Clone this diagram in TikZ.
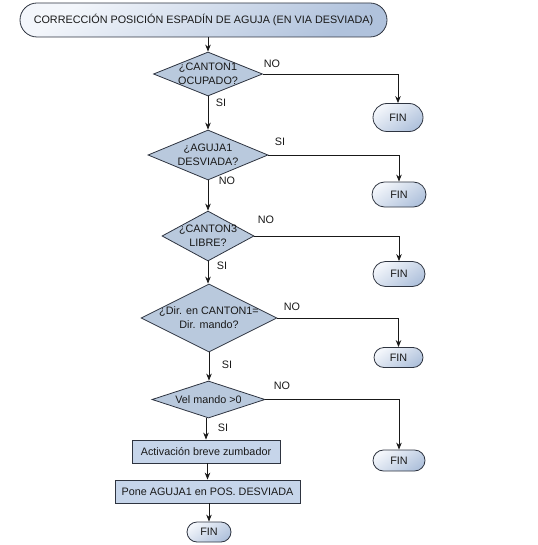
\documentclass[tikz,border=0pt]{standalone}
\usepackage{fontspec}
\setmainfont{Liberation Sans}
\usepackage{xcolor}
\definecolor{edgecol}{HTML}{2E3440}
\definecolor{decfill}{HTML}{B9C9DD}
\definecolor{procfill}{HTML}{C6D5EA}
\definecolor{termlight}{HTML}{F3F6FB}
\definecolor{termdark}{HTML}{B0C2DC}
\usepackage{tikz}
\usetikzlibrary{shapes.geometric,shapes.misc}
\usetikzlibrary{arrows.meta}
\tikzset{>={Stealth[length=7pt,width=5.5pt]}}
\tikzset{
  txt/.style={font=\fontsize{10.8}{14}\selectfont, text=black!90},
  terminal/.style={rounded rectangle, draw=edgecol, line width=0.8pt, top color=termlight,
    bottom color=termdark, shading angle=35, inner sep=0pt, txt},
  decision/.style={diamond, draw=edgecol, line width=0.8pt, fill=decfill, inner sep=0pt},
  dlbl/.style={txt, align=center, inner sep=0pt},
  process/.style={rectangle, draw=edgecol, line width=0.8pt, fill=procfill, inner sep=0pt, txt},
  lbl/.style={txt, inner sep=0pt},
  flow/.style={->, draw=black!90, line width=0.8pt}
}

\begin{document}
\begin{tikzpicture}[x=1pt,y=-1pt]
  \useasboundingbox (0,0) rectangle (537,545);
  % terminals
  \node[terminal, minimum width=367pt, minimum height=34pt] (start) at (203.5,20)
    {CORRECCIÓN POSICIÓN ESPADÍN DE AGUJA (EN VIA DESVIADA)};
  \node[terminal, minimum width=50pt, minimum height=28pt] (fin1) at (398,117.5) {FIN};
  \node[terminal, minimum width=54pt, minimum height=25pt] (fin2) at (399,194.5) {FIN};
  \node[terminal, minimum width=52pt, minimum height=25pt] (fin3) at (399,274) {FIN};
  \node[terminal, minimum width=49pt, minimum height=20pt] (fin4) at (398.5,357.5) {FIN};
  \node[terminal, minimum width=52pt, minimum height=21pt] (fin5) at (399,460.5) {FIN};
  \node[terminal, minimum width=44pt, minimum height=20pt] (fin6) at (209,532) {FIN};
  % decisions
  \node[decision, minimum width=109pt, minimum height=44pt,
    label={[dlbl]center:{¿CANTON1\\OCUPADO?}}] (d1) at (208,74) {};
  \node[decision, minimum width=120pt, minimum height=50pt,
    label={[dlbl]center:{¿AGUJA1\\DESVIADA?}}] (d2) at (208,155) {};
  \node[decision, minimum width=92pt, minimum height=50pt,
    label={[dlbl]center:{¿CANTON3\\LIBRE?}}] (d3) at (208,236) {};
  \node[decision, minimum width=136pt, minimum height=68pt,
    label={[dlbl]center:{¿Dir. en CANTON1=\\Dir. mando?}}] (d4) at (209,318) {};
  \node[decision, minimum width=113pt, minimum height=37pt,
    label={[dlbl]center:{Vel mando >0}}] (d5) at (208.5,399.5) {};
  % processes
  \node[process, minimum width=148pt, minimum height=23pt] (p1) at (206,451.5)
    {Activación breve zumbador};
  \node[process, minimum width=185pt, minimum height=23pt] (p2) at (207.5,491.5)
    {Pone AGUJA1 en POS. DESVIADA};
  % branch labels
  \node[lbl] (n1) at (272,64) {NO};
  \node[lbl] (s1) at (221,103) {SI};
  \node[lbl] (s2) at (280,142) {SI};
  \node[lbl] (n2) at (227,181) {NO};
  \node[lbl] (n3) at (266,220) {NO};
  \node[lbl] (s3) at (222,266) {SI};
  \node[lbl] (n4) at (292,307) {NO};
  \node[lbl] (s4) at (227,365) {SI};
  \node[lbl] (n5) at (282,386) {NO};
  \node[lbl] (s5) at (223,428) {SI};
  % main column
  \draw[flow] (start.south -| d1.north) -- (d1.north);
  \draw[flow] (d1.south) -- (d2.north);
  \draw[flow] (d2.south) -- (d3.north);
  \draw[flow] (d3.south) -- (d4.north -| d3.south);
  \draw[flow] (d4.south) -- (d5.north -| d4.south);
  \draw[flow] (d5.south -| p1.north) -- (p1.north);
  \draw[flow] (p1.south -| p2.north) -- (p2.north);
  \draw[flow] (p2.south -| fin6.north) -- (fin6.north);
  % exits
  \draw[flow] (d1.east) -| (fin1.north);
  \draw[flow] (d2.east) -| (fin2.north);
  \draw[flow] (d3.east) -| (fin3.north);
  \draw[flow] (d4.east) -| (fin4.north);
  \draw[flow] (d5.east) -| (fin5.north);
\end{tikzpicture}
\end{document}
